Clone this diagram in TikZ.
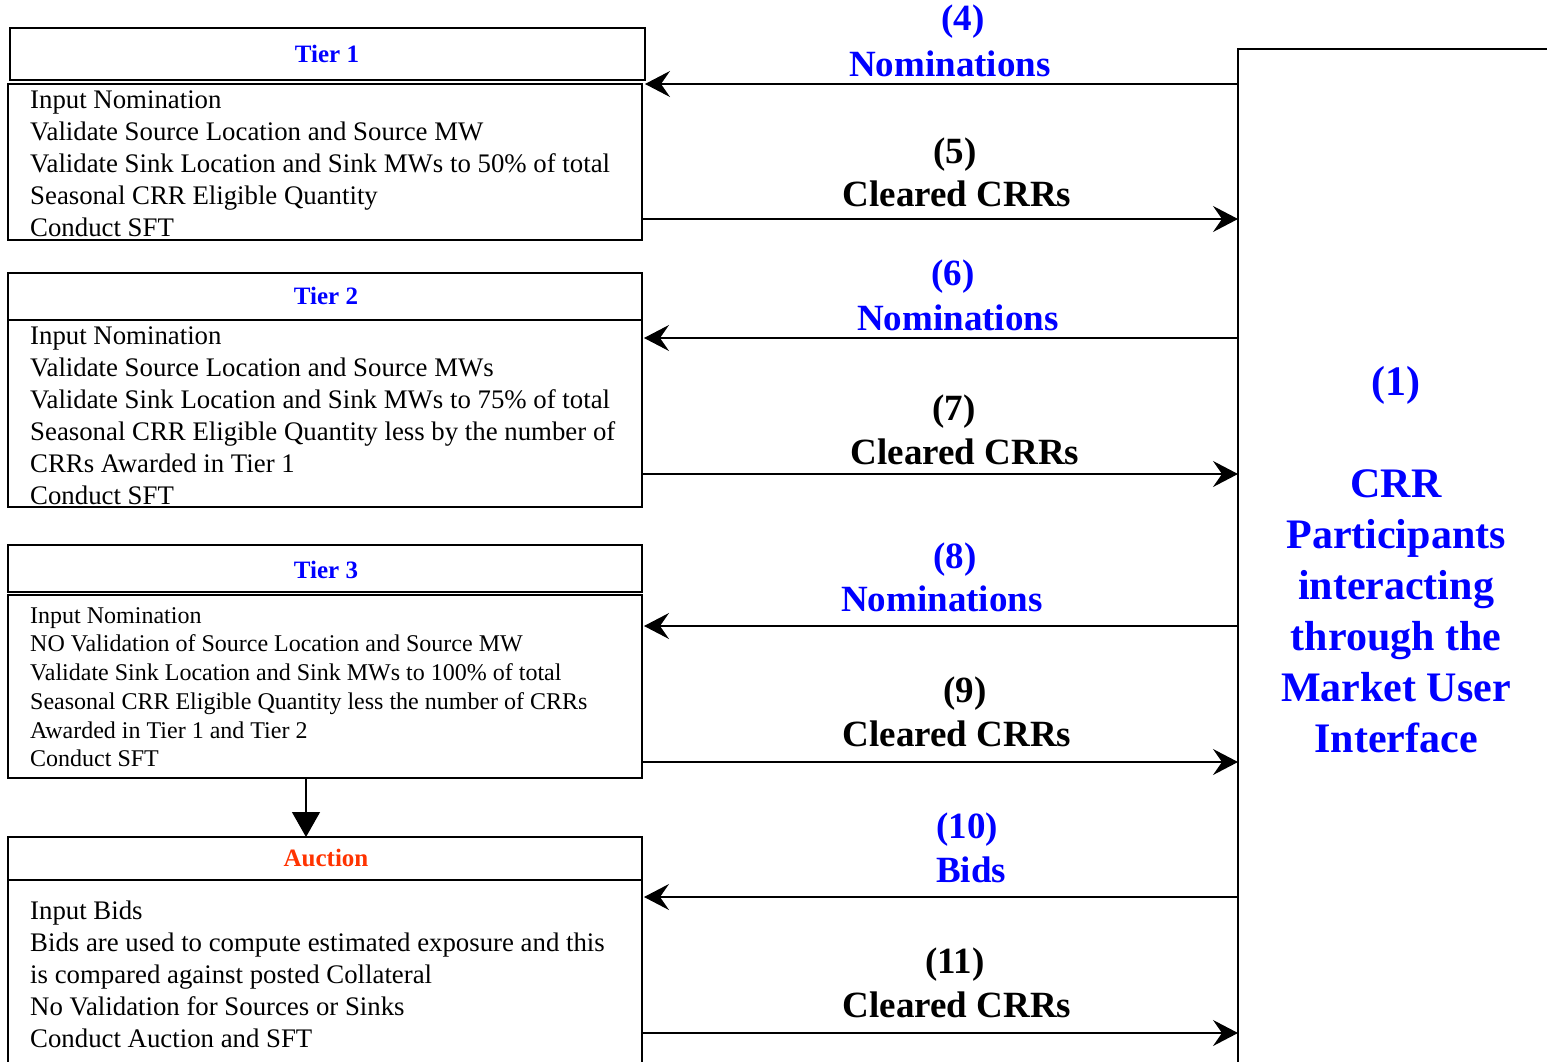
\documentclass[tikz,border=0pt]{standalone}
\usepackage{fontspec}
\setmainfont{Liberation Serif}
\usetikzlibrary{arrows.meta}
\definecolor{lblue}{RGB}{0,0,255}
\definecolor{aucred}{RGB}{255,51,0}
\begin{document}
\begin{tikzpicture}[x=1pt,y=-1pt,
  box/.style={draw,line width=2pt,anchor=north west,inner sep=0pt,outer sep=0pt},
  hdr/.style={font=\fontsize{25}{30}\selectfont\bfseries,text=lblue},
  bodytxt/.style={anchor=north west,inner sep=0pt,align=left,font=\fontsize{26.8}{32}\selectfont},
  arr/.style={line width=1.3pt,-{Stealth[length=25pt,width=26pt,inset=9pt]}},
  dn/.style={line width=1.3pt,-{Triangle[length=25pt,width=28pt]}},
  num/.style={font=\fontsize{37}{40}\selectfont\bfseries},
  lab/.style={font=\fontsize{37}{40}\selectfont\bfseries}
]
\useasboundingbox (0,0) rectangle (1547,1062);
% right box
\node[box,minimum width=400pt,minimum height=1100pt] (ui) at (1238,49) {};
\node[align=center,text=lblue,font=\fontsize{42}{51}\selectfont\bfseries] (uitxt) at (1396,560)
  {(1)\\ \\CRR\\Participants\\interacting\\through the\\Market User\\Interface};
% Tier 1
\node[box,minimum width=635pt,minimum height=52pt] (t1h) at (10,28) {};
\node[hdr] (t1t) at (327,54) {Tier 1};
\node[box,minimum width=634pt,minimum height=156pt] (t1b) at (8,84) {};
\node[bodytxt] (t1x) at (30,88) {\rule{0pt}{20pt}Input Nomination\\Validate Source Location and Source MW\\Validate Sink Location and Sink MWs to 50\% of total\\Seasonal CRR Eligible Quantity\\Conduct SFT};
% Tier 2
\node[box,minimum width=634pt,minimum height=47pt] (t2h) at (8,273) {};
\node[hdr] (t2t) at (326,296) {Tier 2};
\node[box,minimum width=634pt,minimum height=187pt] (t2b) at (8,320) {};
\node[bodytxt] (t2x) at (30,324) {\rule{0pt}{20pt}Input Nomination\\Validate Source Location and Source MWs\\Validate Sink Location and Sink MWs to 75\% of total\\Seasonal CRR Eligible Quantity less by the number of\\CRRs Awarded in Tier 1\\Conduct SFT};
% Tier 3
\node[box,minimum width=634pt,minimum height=47pt] (t3h) at (8,545) {};
\node[hdr] (t3t) at (326,570) {Tier 3};
\node[box,minimum width=634pt,minimum height=183pt] (t3b) at (8,595) {};
\node[bodytxt,font=\fontsize{24}{28.7}\selectfont] (t3x) at (30,605) {\rule{0pt}{18pt}Input Nomination\\NO Validation of Source Location and Source MW\\Validate Sink Location and Sink MWs to 100\% of total\\Seasonal CRR Eligible Quantity less the number of CRRs\\Awarded in Tier 1 and Tier 2\\Conduct SFT};
% Auction
\node[box,minimum width=634pt,minimum height=43pt] (auh) at (8,837) {};
\node[hdr,text=aucred] (aut) at (326,858) {Auction};
\node[box,minimum width=634pt,minimum height=220pt] (aub) at (8,880) {};
\node[bodytxt] (aux) at (30,899) {\rule{0pt}{20pt}Input Bids\\Bids are used to compute estimated exposure and this\\is compared against posted Collateral\\No Validation for Sources or Sinks\\Conduct Auction and SFT};
% down arrow
\draw[dn] ([xshift=-19pt]t3b.south) -- ([xshift=-19pt]auh.north);
% connectors
\draw[arr] (ui.west |- t1b.north) -- (t1h.east |- t1b.north);
\draw[arr] (t1b.east |- 0,219) -- (ui.west |- 0,219);
\draw[arr] (ui.west |- 0,338) -- ([xshift=2pt]t2b.east |- 0,338);
\draw[arr] (t2b.east |- 0,474) -- (ui.west |- 0,474);
\draw[arr] (ui.west |- 0,626) -- ([xshift=2pt]t3b.east |- 0,626);
\draw[arr] (t3b.east |- 0,762) -- (ui.west |- 0,762);
\draw[arr] (ui.west |- 0,897) -- ([xshift=2pt]aub.east |- 0,897);
\draw[arr] (aub.east |- 0,1033) -- (ui.west |- 0,1033);
% labels
\node[num,text=lblue] (l4) at (963,22) {(4)};
\node[lab,text=lblue] (l4b) at (950,64) {Nominations};
\node[num] (l5) at (955,155) {(5)};
\node[lab] (l5b) at (957,194) {Cleared CRRs};
\node[num,text=lblue] (l6) at (953,277) {(6)};
\node[lab,text=lblue] (l6b) at (958,318) {Nominations};
\node[num] (l7) at (954,412) {(7)};
\node[lab] (l7b) at (965,452) {Cleared CRRs};
\node[num,text=lblue] (l8) at (955,560) {(8)};
\node[lab,text=lblue] (l8b) at (942,599) {Nominations};
\node[num] (l9) at (965,694) {(9)};
\node[lab] (l9b) at (957,734) {Cleared CRRs};
\node[num,text=lblue] (l10) at (967,830) {(10)};
\node[lab,text=lblue] (l10b) at (971,870) {Bids};
\node[num] (l11) at (955,965) {(11)};
\node[lab] (l11b) at (957,1005) {Cleared CRRs};
\end{tikzpicture}
\end{document}
